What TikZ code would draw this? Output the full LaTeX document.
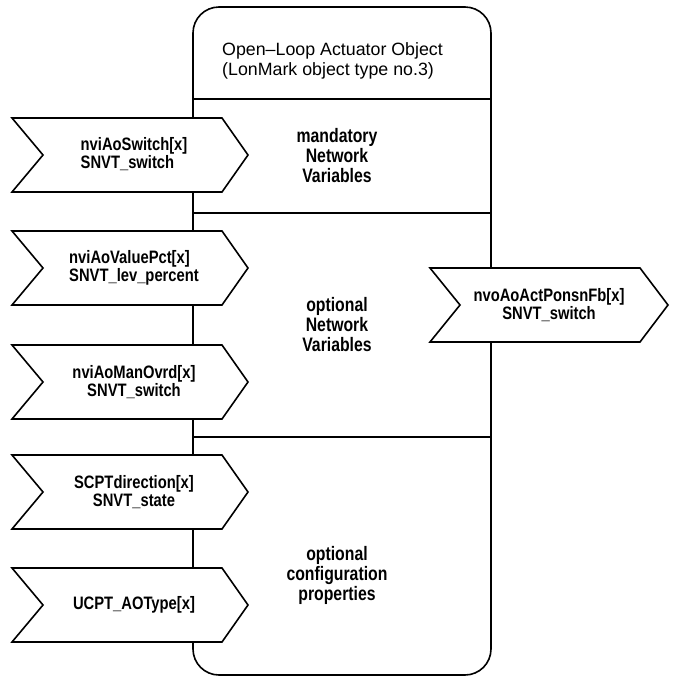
\documentclass[tikz,border=0pt]{standalone}
\usepackage{fontspec}
\setmainfont{Liberation Sans}
\newfontfamily\secfont[FakeStretch=0.81]{Liberation Sans}
\newfontfamily\chevfont[FakeStretch=0.82]{Liberation Sans}
\tikzset{
  outline/.style={draw, line width=1.6pt},
  chev/.style={draw, line width=1.6pt, fill=white, line join=miter},
  chevtext/.style={font=\chevfont\bfseries\fontsize{18}{14}\selectfont, align=center, inner sep=0pt},
  seclabel/.style={font=\secfont\bfseries\fontsize{19.5}{20}\selectfont, align=center, inner sep=0pt},
  titletext/.style={font=\fontsize{17.8}{20}\selectfont, anchor=base west, inner sep=0pt}
}
\newcommand{\leftchev}[3]{%
  \draw[chev] (12,{#2-37}) -- (222,{#2-37}) -- (248,#2) -- (222,{#2+37}) -- (12,{#2+37}) -- (43,#2) -- cycle;
  \node[chevtext] (#1) at (134,#2) {#3};}
\begin{document}
\begin{tikzpicture}[x=1pt,y=-1pt]
\useasboundingbox (0,0) rectangle (677,678);
% main object box
\draw[outline, rounded corners=26pt] (193,7) rectangle (491,675);
\coordinate (l1) at (193,99);  \coordinate (r1) at (491,99);
\coordinate (l2) at (193,213); \coordinate (r2) at (491,213);
\coordinate (l3) at (193,437); \coordinate (r3) at (491,437);
\draw[outline] (l1) -- (r1);
\draw[outline] (l2) -- (r2);
\draw[outline] (l3) -- (r3);
% title
\node[titletext] (t1) at (222,55) {Open--Loop Actuator Object};
\node[titletext] (t2) at (222,75) {(LonMark object type no.3)};
% section labels
\node[seclabel] (s1) at (337,156) {mandatory\\Network\\Variables};
\node[seclabel] (s2) at (337,325) {optional\\Network\\Variables};
\node[seclabel] (s3) at (337,575) {optional\\configuration\\properties};
% input chevrons
\leftchev{c1}{155}{\begin{tabular}{@{}l@{}}nviAoSwitch[x]\\SNVT\_switch\end{tabular}}
\leftchev{c2}{268}{\begin{tabular}{@{}l@{}}nviAoValuePct[x]\\SNVT\_lev\_percent\end{tabular}}
\leftchev{c3}{382}{nviAoManOvrd[x]\\SNVT\_switch}
\leftchev{c4}{492}{SCPTdirection[x]\\SNVT\_state}
\leftchev{c5}{605}{UCPT\_AOType[x]}
% output chevron
\draw[chev] (430,268) -- (640,268) -- (668,305) -- (640,342) -- (430,342) -- (460,305) -- cycle;
\node[chevtext] (o1) at (549,305) {nvoAoActPonsnFb[x]\\SNVT\_switch};
\end{tikzpicture}
\end{document}
